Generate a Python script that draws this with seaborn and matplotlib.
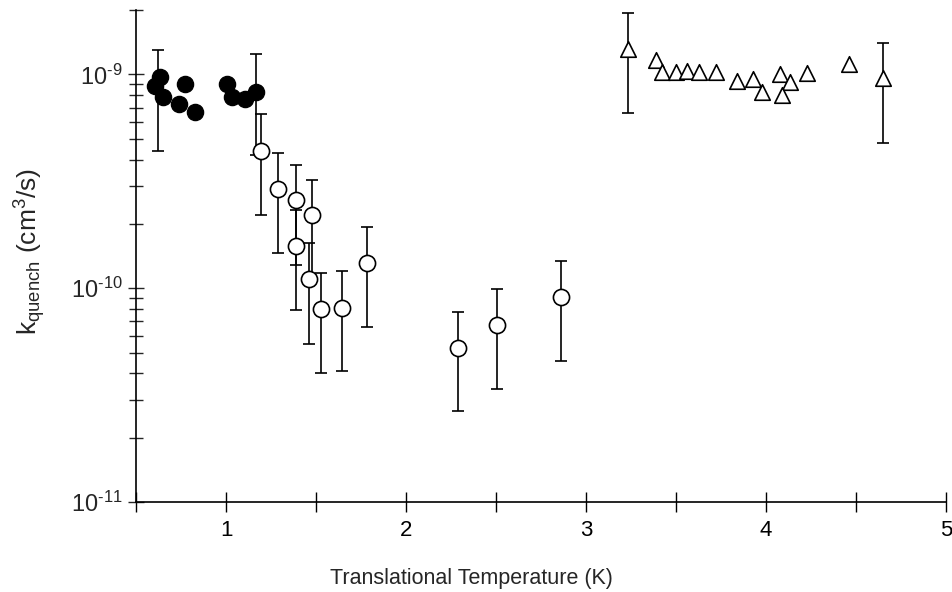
import numpy as np
import matplotlib
matplotlib.use("Agg")
import matplotlib.pyplot as plt
from matplotlib.ticker import LogLocator, NullFormatter, FixedLocator, FixedFormatter
import seaborn as sns

# filled circles (low temperature)
filled_x = [0.633, 0.606, 0.650, 0.772, 0.739, 0.828, 1.006, 1.033, 1.106, 1.167]
filled_k = [9.7e-10, 8.8e-10, 7.8e-10, 9.0e-10, 7.3e-10, 6.7e-10, 9.0e-10, 7.8e-10, 7.7e-10, 8.3e-10]
filled_err_x = [0.622, 1.167]
filled_err_k = [8.8e-10, 8.3e-10]
filled_err_lo = [4.4e-10, 4.2e-10]
filled_err_hi = [1.3e-9, 1.25e-9]

# open circles
open_x = [1.193, 1.291, 1.389, 1.389, 1.476, 1.463, 1.526, 1.646, 1.783, 2.287, 2.507, 2.859]
open_k = [4.38e-10, 2.92e-10, 2.59e-10, 1.57e-10, 2.19e-10, 1.11e-10,
          8.03e-11, 8.1e-11, 1.31e-10, 5.28e-11, 6.71e-11, 9.1e-11]
open_lo = [2.19e-10, 1.46e-10, 1.29e-10, 7.9e-11, 1.1e-10, 5.5e-11,
           4.0e-11, 4.1e-11, 6.6e-11, 2.66e-11, 3.37e-11, 4.56e-11]
open_hi = [6.5e-10, 4.28e-10, 3.79e-10, 2.31e-10, 3.2e-10, 1.63e-10,
           1.18e-10, 1.2e-10, 1.93e-10, 7.7e-11, 9.9e-11, 1.34e-10]

# open triangles (high temperature)
tri_x = [3.235, 3.389, 3.421, 3.5, 3.563, 3.629, 3.722, 3.841, 3.926, 3.979,
         4.078, 4.133, 4.087, 4.229, 4.461, 4.648]
tri_k = [1.32e-9, 1.17e-9, 1.03e-9, 1.03e-9, 1.04e-9, 1.03e-9, 1.03e-9, 9.3e-10,
         9.55e-10, 8.3e-10, 1.0e-9, 9.2e-10, 7.97e-10, 1.02e-9, 1.12e-9, 9.6e-10]
tri_err_x = [3.235, 4.648]
tri_err_k = [1.32e-9, 9.6e-10]
tri_err_lo = [6.6e-10, 4.8e-10]
tri_err_hi = [1.94e-9, 1.41e-9]

x_ticks = [0.5, 1.0, 1.5, 2.0, 2.5, 3.0, 3.5, 4.0, 4.5, 5.0]
x_labels = ["", "1", "", "2", "", "3", "", "4", "", "5"]
y_ticks = [1e-11, 1e-10, 1e-9]
y_labels = ["10$^{\u2010 11}$", "10$^{\u2010 10}$", "10$^{\u2010 9}$"]

sns.set_style("ticks")
plt.rcParams["font.family"] = ["Liberation Sans", "DejaVu Sans"]
plt.rcParams["mathtext.default"] = "regular"
plt.rcParams["axes.unicode_minus"] = False


def add_errorbars(ax, x, k, lo, hi):
    k = np.array(k)
    yerr = [k - np.array(lo), np.array(hi) - k]
    ax.errorbar(x, k, yerr=yerr, fmt="none", ecolor="black",
                elinewidth=1.2, capsize=4.5, capthick=1.2, zorder=2)


fig = plt.figure(figsize=(9.52, 5.92), dpi=100)
ax = fig.add_axes([0.1429, 0.152, 0.8508, 0.831])

add_errorbars(ax, filled_err_x, filled_err_k, filled_err_lo, filled_err_hi)
add_errorbars(ax, open_x, open_k, open_lo, open_hi)
add_errorbars(ax, tri_err_x, tri_err_k, tri_err_lo, tri_err_hi)

sns.scatterplot(x=filled_x, y=filled_k, ax=ax, marker="o", s=135,
                color="black", edgecolor="black", linewidth=1, zorder=3)
sns.scatterplot(x=open_x, y=open_k, ax=ax, marker="o", s=135,
                color="white", edgecolor="black", linewidth=1.2, zorder=3)
sns.scatterplot(x=tri_x, y=tri_k, ax=ax, marker="^", s=125,
                color="white", edgecolor="black", linewidth=1.2, zorder=3)

ax.set_yscale("log")
ax.set_ylim(1e-11, 2e-9)
ax.set_xlim(0.5, 5.0)
ax.set_xticks(x_ticks)
ax.set_xticklabels(x_labels)
ax.yaxis.set_major_locator(FixedLocator(y_ticks))
ax.yaxis.set_major_formatter(FixedFormatter(y_labels))
ax.yaxis.set_minor_locator(LogLocator(base=10, subs=range(2, 10)))
ax.yaxis.set_minor_formatter(NullFormatter())

ax.tick_params(axis="x", direction="inout", length=14, width=1, pad=6,
               labelsize=16, colors="black")
ax.tick_params(axis="y", which="major", direction="inout", length=11, width=1,
               pad=4, labelsize=17)
ax.tick_params(axis="y", which="minor", direction="inout", length=10, width=1)

sns.despine(ax=ax)
for side in ["left", "bottom"]:
    ax.spines[side].set_linewidth(1.2)
    ax.spines[side].set_color("black")

ax.set_xlabel("Translational Temperature (K)", fontsize=15.5)
ax.xaxis.set_label_coords(0.4136, -0.135)
ax.set_ylabel(r"k$_{quench}$ (cm$^{3}$/s)", fontsize=19)
ax.yaxis.label.set_verticalalignment("center")
ax.yaxis.set_label_coords(-0.131, 0.51)

fig.savefig("out.png", dpi=100)
